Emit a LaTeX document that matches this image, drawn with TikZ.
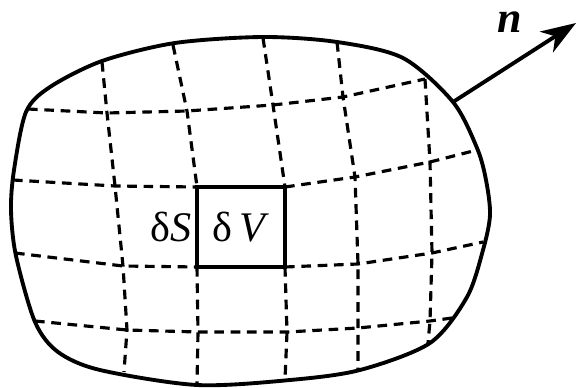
\documentclass[tikz,border=0pt]{standalone}
\usepackage{fontspec}
\setmainfont{Liberation Serif}
\usetikzlibrary{arrows.meta,positioning}

\tikzset{
    outline/.style={line width=2.2pt},
    gridline/.style={line width=1.8pt,dash pattern=on 5.5pt off 3.8pt},
    cell/.style={draw,line width=1.9pt,minimum width=1.76cm,minimum height=1.6cm,inner sep=0pt,outer sep=0pt,font=\fontsize{24}{26}\selectfont},
    lbl/.style={inner sep=0pt,font=\fontsize{24}{26}\selectfont},
    normal/.style={line width=2.2pt,-{Stealth[length=20pt,width=14pt,inset=6pt]}}
}

\begin{document}
\begin{tikzpicture}[x=0.02cm,y=-0.02cm]
    \useasboundingbox (0,0) rectangle (577,388);

    % surface of the volume
    \draw[outline] plot[smooth cycle] coordinates {(11,210) (16,256) (35,322) (58,352) (100,370) (197,385) (290,380) (360,370) (430,343) (467,297) (483,250) (490,215) (486,180) (477,148) (453,102) (403,58) (337,42) (263,37) (175,43) (102,61) (50,87) (26,112) (14,170)};

    % the small element
    \node[cell] (dv) at (241,227) {δ\,\textit{V}};
    \node[lbl,left=3pt of dv] (ds) {δ\textit{S}};

    % grid points
    \foreach \n/\x/\y in {01/102/62, 02/173/45, 03/263/38, 04/337/42,
        10/28/109, 11/107/113, 12/187/111, 13/273/105, 14/343/97, 15/425/79,
        20/13/180, 21/115/186, 24/355/177, 25/430/162, 26/477/150,
        30/15/253, 31/123/266, 34/358/264, 35/432/253, 36/483/242,
        40/35/321, 41/127/330, 42/198/332, 43/287/332, 44/358/328, 45/430/321, 46/452/318,
        51/124/372, 52/197/385, 53/285/380, 54/358/370, 55/428/343}
        \coordinate (p\n) at (\x,\y);

    % dashed lines across
    \draw[gridline] (p10) -- (p11) -- (p12) -- (p13) -- (p14) -- (p15);
    \draw[gridline] (p20) -- (p21) -- (dv.north west);
    \draw[gridline] (dv.north east) -- (p24) -- (p25) -- (p26);
    \draw[gridline] (p30) -- (p31) -- (dv.south west);
    \draw[gridline] (dv.south east) -- (p34) -- (p35) -- (p36);
    \draw[gridline] (p40) -- (p41) -- (p42) -- (p43) -- (p44) -- (p45) -- (p46);

    % dashed lines down
    \draw[gridline] (p01) -- (p11) -- (p21) -- (p31) -- (p41) -- (p51);
    \draw[gridline] (p02) -- (p12) -- (dv.north west);
    \draw[gridline] (dv.south west) -- (p42) -- (p52);
    \draw[gridline] (p03) -- (p13) -- (dv.north east);
    \draw[gridline] (dv.south east) -- (p43) -- (p53);
    \draw[gridline] (p04) -- (p14) -- (p24) -- (p34) -- (p44) -- (p54);
    \draw[gridline] (p15) -- (p25) -- (p35) -- (p45) -- (p55);

    % outward normal
    \coordinate (nbase) at (453,102);
    \coordinate (ntip) at (576,23);
    \draw[normal] (nbase) -- (ntip);
    \node[lbl,font=\fontsize{25}{26}\selectfont\bfseries\itshape] (nlbl) at (510,22) {n};
\end{tikzpicture}
\end{document}
